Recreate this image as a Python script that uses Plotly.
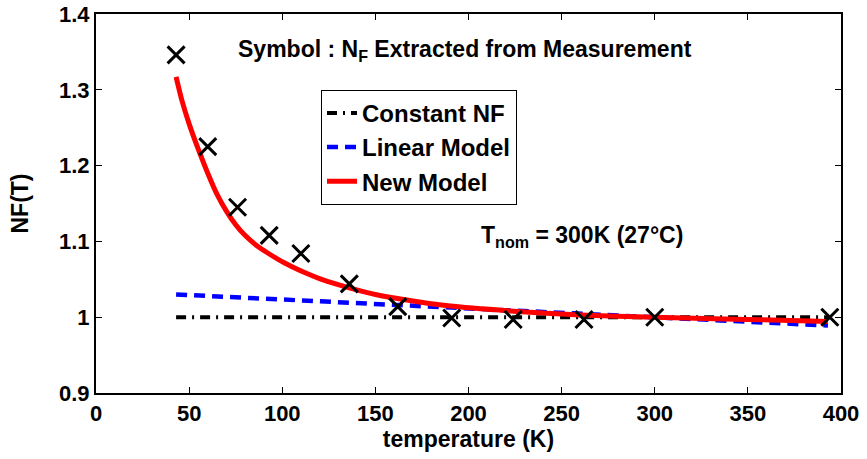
import plotly.graph_objects as go

# Measured NF (symbols)
meas_T = [43, 60, 76, 93, 110, 136, 162, 191, 224, 262, 300, 394]
meas_NF = [1.346, 1.225, 1.145, 1.108, 1.084, 1.044, 1.014, 0.999, 0.997, 0.997, 1.000, 1.000]

# Constant NF model
const_T = [43, 393]
const_NF = [1.0, 1.0]

# Linear model
lin_T = [43, 393]
lin_NF = [1.030, 0.989]

# New model
new_T = [43, 46, 50, 55, 60, 65, 70, 75, 80, 86, 92, 98, 105, 112, 120, 130, 140, 150,
         166, 189, 224, 260, 300, 332, 368, 393]
new_NF = [1.317, 1.287, 1.255, 1.221, 1.190, 1.162, 1.140, 1.122, 1.108, 1.095, 1.085, 1.076,
          1.067, 1.059, 1.051, 1.043, 1.036, 1.030, 1.023, 1.015, 1.008, 1.003, 1.000,
          0.998, 0.996, 0.9944]

FONT = "Liberation Sans, Arial, Helvetica, sans-serif"

fig = go.Figure()
fig.add_trace(go.Scatter(x=const_T, y=const_NF, mode="lines", name="Constant NF",
                         line=dict(color="black", width=4, dash="10px,6px,2px,6px")))
fig.add_trace(go.Scatter(x=lin_T, y=lin_NF, mode="lines", name="Linear Model",
                         line=dict(color="#0000ff", width=4.5, dash="11px,7px")))
fig.add_trace(go.Scatter(x=new_T, y=new_NF, mode="lines", name="New Model",
                         line=dict(color="#ff0000", width=5, shape="spline", smoothing=0.6)))
fig.add_trace(go.Scatter(x=meas_T, y=meas_NF, mode="markers", showlegend=False,
                         marker=dict(symbol="x-thin", size=17, color="black",
                                     line=dict(color="black", width=3))))

axis_common = dict(showline=True, linecolor="black", linewidth=2, mirror="ticks",
                   ticks="inside", ticklen=6, tickwidth=1, tickcolor="black",
                   showgrid=False, zeroline=False, automargin=False,
                   tickfont=dict(family=FONT, size=22, color="black", weight="bold"))

fig.update_layout(
    width=867, height=459,
    margin=dict(l=96, r=26, t=14, b=66),
    paper_bgcolor="white", plot_bgcolor="white",
    font=dict(family=FONT, size=23, color="black", weight="bold"),
    xaxis=dict(range=[0, 400], dtick=50, tick0=0,
               title=dict(text="temperature (K)", standoff=4,
                          font=dict(family=FONT, size=23, color="black", weight="bold")),
               **axis_common),
    yaxis=dict(range=[0.9, 1.4], dtick=0.1, tick0=0.9,
               title=dict(text="NF(T)", standoff=24,
                          font=dict(family=FONT, size=23, color="black", weight="bold")),
               **axis_common),
    legend=dict(x=0.302, y=0.800, xanchor="left", yanchor="top",
                bgcolor="white", bordercolor="black", borderwidth=1,
                font=dict(family=FONT, size=24, color="black", weight="bold"),
                tracegroupgap=0, itemwidth=30),
    showlegend=True,
)

fig.add_annotation(x=198, y=1.352, xref="x", yref="y", showarrow=False,
                   text="Symbol : N<sub>F</sub> Extracted from Measurement",
                   xanchor="center", yanchor="middle",
                   font=dict(family=FONT, size=23, color="black", weight="bold"))
fig.add_annotation(x=261, y=1.107, xref="x", yref="y", showarrow=False,
                   text="T<sub>nom</sub> = 300K (27°C)",
                   xanchor="center", yanchor="middle",
                   font=dict(family=FONT, size=23, color="black", weight="bold"))

fig.write_html("out.html")
